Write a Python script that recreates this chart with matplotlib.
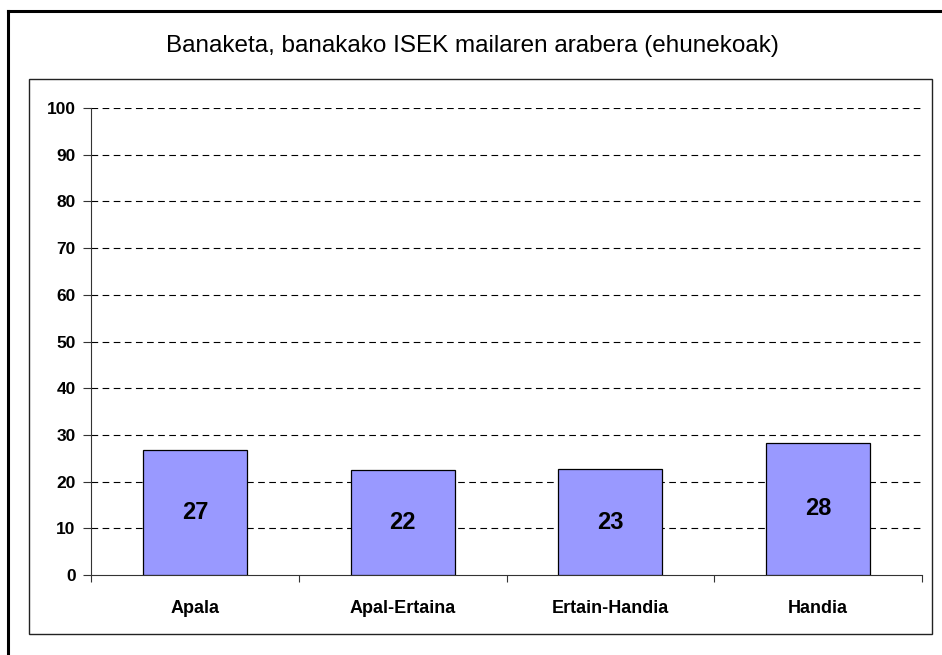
import matplotlib
matplotlib.use('Agg')
import matplotlib.pyplot as plt
from matplotlib.lines import Line2D
from matplotlib.patches import Rectangle

plt.rcParams['font.family'] = ['Liberation Sans', 'DejaVu Sans']

# data
categories = ['Apala', 'Apal-Ertaina', 'Ertain-Handia', 'Handia']
values = [26.8, 22.4, 22.6, 28.3]
yticks = [0, 10, 20, 30, 40, 50, 60, 70, 80, 90, 100]
title = 'Banaketa, banakako ISEK mailaren arabera (ehunekoak)'

W, H = 942, 655
fig = plt.figure(figsize=(W / 100, H / 100), dpi=100)
fig.patch.set_facecolor('white')

# outer frame (only top and left visible)
fig.add_artist(Line2D([7.5 / W, 7.5 / W], [0, 1 - 11 / H], color='black', lw=2.2))
fig.add_artist(Line2D([7.5 / W, 1], [1 - 11 / H, 1 - 11 / H], color='black', lw=2.2))

# plot area frame
fig.add_artist(Rectangle((29 / W, 1 - 634 / H), 903 / W, 555 / H, fill=False,
                         edgecolor='#222222', lw=1.0, transform=fig.transFigure))

fig.text(472 / W, 1 - 52 / H, title, ha='center', va='baseline', fontsize=17.5)

ax = fig.add_axes([91 / W, 1 - 575 / H, (922 - 91) / W, (575 - 108) / H])
x = list(range(len(categories)))
ax.bar(x, values, width=0.5, color='#9999FF', edgecolor='black', linewidth=0.9, zorder=3)

for xi, v in zip(x, values):
    ax.text(xi, v / 2, str(round(v)), ha='center', va='center', fontsize=17,
            fontweight='bold', zorder=4)

ax.set_xlim(-0.5, len(categories) - 0.5)
ax.set_ylim(0, 100)
ax.set_yticks(yticks)
ax.set_yticklabels([str(t) for t in yticks], fontsize=12.5, fontweight='bold')
for t in yticks[1:]:
    ax.axhline(t, color='black', lw=0.8, dashes=(6, 4), zorder=1)

ax.set_xticks([i - 0.5 for i in range(len(categories) + 1)])
ax.set_xticklabels([])
ax.set_xticks(x, minor=True)
ax.set_xticklabels(categories, minor=True, fontsize=13, fontweight='bold')
ax.tick_params(axis='x', which='major', length=5, width=0.8, color='#333333', direction='out')
ax.tick_params(axis='x', which='minor', length=0, pad=18)
ax.tick_params(axis='y', length=5.5, width=0.8, color='#333333', direction='out', pad=5.5)

for s in ['top', 'right']:
    ax.spines[s].set_visible(False)
for s in ['left', 'bottom']:
    ax.spines[s].set_color('#333333')
    ax.spines[s].set_linewidth(0.8)

fig.savefig('out.png', dpi=100)
